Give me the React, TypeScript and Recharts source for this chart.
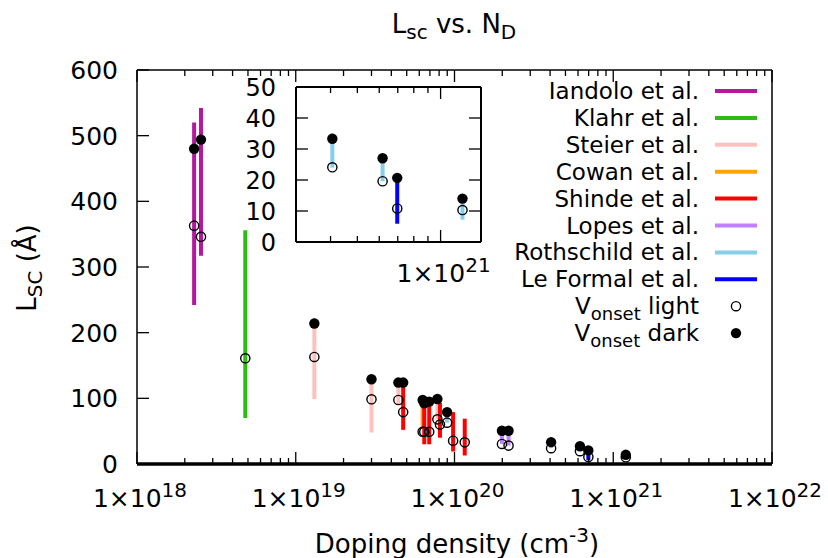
import React from 'react';
import { ScatterChart, Scatter, XAxis, YAxis, ErrorBar, Legend } from 'recharts';

const FONT = '"DejaVu Sans", sans-serif';

// ---- data (doping density in cm^-3, Lsc in Å) ----
const iandolo = [
  { x: 2.29e18, lo: 242, hi: 520, light: 363, dark: 480 },
  { x: 2.53e18, lo: 317, hi: 542, light: 346, dark: 494 },
];
const klahr = [{ x: 4.81e18, lo: 70, hi: 356, light: 161, dark: null }];
const steier = [
  { x: 1.31e19, lo: 99, hi: 222, light: 163, dark: 214 },
  { x: 3.0e19, lo: 48, hi: 135, light: 98.5, dark: 129 },
  { x: 4.43e19, lo: 90, hi: 124, light: 97.5, dark: 124 },
  { x: 7.8e19, lo: 68, hi: 99, light: 68, dark: 99 },
];
const cowan = [{ x: 6.3e19, lo: 55, hi: 90, light: 49, dark: 97.5 }];
const shinde = [
  { x: 4.75e19, lo: 52, hi: 123, light: 79, dark: 124 },
  { x: 6.45e19, lo: 30, hi: 93, light: 49, dark: 92.5 },
  { x: 6.93e19, lo: 30, hi: 93, light: 49, dark: 95 },
  { x: 8.1e19, lo: 40, hi: 93, light: 60, dark: null },
  { x: 9.8e19, lo: 19, hi: 79, light: 35.5, dark: null },
  { x: 1.16e20, lo: 13, hi: 69, light: 33, dark: null },
];
const lopes = [
  { x: 1.99e20, lo: 30.5, hi: 50.7, light: 30.5, dark: 50.7 },
  { x: 2.19e20, lo: 28, hi: 50.7, light: 28, dark: 50.7 },
];
const rothschild = [
  { x: 8.98e19, lo: 63, hi: 79, light: 63, dark: 79 },
  { x: 4.06e20, lo: 24, hi: 35, light: 24.1, dark: 33.3 },
  { x: 6.17e20, lo: 19.6, hi: 28, light: 19.6, dark: 27 },
  { x: 1.2e21, lo: 7.2, hi: 14, light: 10.3, dark: 14 },
];
const leFormal = [{ x: 6.97e20, lo: 5.9, hi: 20.7, light: 10.8, dark: 20.7 }];

const groupNames = ['Iandolo et al.', 'Klahr et al.', 'Steier et al.', 'Cowan et al.', 'Shinde et al.', 'Lopes et al.', 'Rothschild et al.', 'Le Formal et al.'];
const groupColors = ['#b5179e', '#2dbd12', '#ffc0c0', '#ffa500', '#ff0000', '#c080ff', '#87ceeb', '#0000ff'];
const groupData = [iandolo, klahr, steier, cowan, shinde, lopes, rothschild, leFormal];

const xMajorTicks = [1e18, 1e19, 1e20, 1e21, 1e22];
const minorMultipliers = [2, 3, 4, 5, 6, 7, 8, 9];
const yTicksMain = [0, 100, 200, 300, 400, 500, 600];
const yTicksInset = [0, 10, 20, 30, 40, 50];
const insetDomain = [3e20, 1.4e21];

const xTicksAll = xMajorTicks.flatMap((m, i) =>
  i < xMajorTicks.length - 1 ? [m, ...minorMultipliers.map((k) => k * m)] : [m]
);

const isMajor = (v: number) => Math.abs(Math.log10(v) - Math.round(Math.log10(v))) < 1e-6;

const makeXTick = (side: 'bottom' | 'top', labels: boolean, fontSize: number, labelDy: number, majorLen: number, minorLen: number, lo?: number, hi?: number) => (props: any) => {
  const { x, y, payload } = props;
  const v = payload.value;
  const major = isMajor(v);
  if (lo !== undefined && (v < lo * 0.999 || v > (hi as number) * 1.001)) return <g />;
  const len = major ? majorLen : minorLen;
  const exp = Math.round(Math.log10(v));
  return (
    <g>
      <line x1={x} x2={x} y1={y} y2={side === 'bottom' ? y - len : y + len} stroke="#000" strokeWidth={1.3} />
      {labels && major && side === 'bottom' ? (
        <text x={x + 3} y={y + labelDy} textAnchor="middle" fontFamily={FONT} fontSize={fontSize} fill="#000">
          1×10<tspan fontSize={fontSize * 0.8} dy={-10}>{exp}</tspan>
        </text>
      ) : null}
    </g>
  );
};

const makeYTick = (side: 'left' | 'right', fontSize: number, labelGap: number, len: number) => (props: any) => {
  const { x, y, payload } = props;
  return (
    <g>
      <line x1={x} x2={side === 'left' ? x + len : x - len} y1={y} y2={y} stroke="#000" strokeWidth={1.3} />
      {side === 'left' ? (
        <text x={x - labelGap} y={y + fontSize * 0.36} textAnchor="end" fontFamily={FONT} fontSize={fontSize} fill="#000">
          {payload.value}
        </text>
      ) : null}
    </g>
  );
};

const Empty = () => <g />;
const OpenCircle = (p: any) => <circle cx={p.cx} cy={p.cy} r={4.6} fill="none" stroke="#000" strokeWidth={1.4} />;
const FilledCircle = (p: any) => <circle cx={p.cx} cy={p.cy} r={5.2} fill="#000" />;

type Pt = { x: number; lo: number; hi: number; light: number | null; dark: number | null };

const renderSeries = (filter: (d: Pt) => boolean) => {
  const bars = groupData.map((arr, gi) => {
    const data = (arr as Pt[]).filter(filter).map((d) => ({ x: d.x, y: d.hi, err: [d.hi - d.lo, 0] }));
    return (
      <Scatter key={'bar' + gi} name={groupNames[gi]} data={data} xAxisId="b" yAxisId="l" shape={Empty} isAnimationActive={false} legendType="none">
        <ErrorBar dataKey="err" direction="y" width={0} stroke={groupColors[gi]} strokeWidth={4} isAnimationActive={false} />
      </Scatter>
    );
  });
  const all = (groupData as Pt[][]).flat().filter(filter);
  const lightPts = all.filter((d) => d.light !== null).map((d) => ({ x: d.x, y: d.light }));
  const darkPts = all.filter((d) => d.dark !== null).map((d) => ({ x: d.x, y: d.dark }));
  return [
    ...bars,
    <Scatter key="light" name="Vonset light" data={lightPts} xAxisId="b" yAxisId="l" shape={OpenCircle} isAnimationActive={false} legendType="none" />,
    <Scatter key="dark" name="Vonset dark" data={darkPts} xAxisId="b" yAxisId="l" shape={FilledCircle} isAnimationActive={false} legendType="none" />,
  ];
};

const Overlay = () => {
  const rowY = (i: number) => 91 + i * 26.9;
  return (
    <svg width={828} height={558} style={{ position: 'absolute', left: 0, top: 0, pointerEvents: 'none' }} fontFamily={FONT}>
      <text x={454} y={33} textAnchor="middle" fontSize={26} fill="#000">
        L<tspan fontSize={20} dy={6}>sc</tspan>
        <tspan dy={-6}> vs. N</tspan>
        <tspan fontSize={20} dy={6}>D</tspan>
      </text>
      <text x={457} y={553} textAnchor="middle" fontSize={26} fill="#000">
        Doping density (cm<tspan fontSize={20} dy={-11}>-3</tspan>
        <tspan dy={11}>)</tspan>
      </text>
      <text transform="rotate(-90)" x={-268} y={36} textAnchor="middle" fontSize={26} fill="#000">
        L<tspan fontSize={20} dy={6}>SC</tspan>
        <tspan dy={-6}> (Å)</tspan>
      </text>
      {groupNames.map((n, i) => (
        <g key={n}>
          <text x={699} y={rowY(i) + 8} textAnchor="end" fontSize={23} fill="#000">{n}</text>
          <line x1={715} x2={757} y1={rowY(i)} y2={rowY(i)} stroke={groupColors[i]} strokeWidth={4} />
        </g>
      ))}
      <text x={699} y={rowY(8) + 8} textAnchor="end" fontSize={23} fill="#000">
        V<tspan fontSize={18} dy={6}>onset</tspan>
        <tspan dy={-6}> light</tspan>
      </text>
      <circle cx={736} cy={rowY(8)} r={4.6} fill="none" stroke="#000" strokeWidth={1.4} />
      <text x={699} y={rowY(9) + 8} textAnchor="end" fontSize={23} fill="#000">
        V<tspan fontSize={18} dy={6}>onset</tspan>
        <tspan dy={-6}> dark</tspan>
      </text>
      <circle cx={736} cy={rowY(9)} r={5.2} fill="#000" />
    </svg>
  );
};

export default function App() {
  return (
    <div style={{ position: 'absolute', left: 0, top: 0, width: 828, height: 558, background: '#fff' }}>
      <ScatterChart width={828} height={558} margin={{ top: 40, right: 26, bottom: 34, left: 77 }}>
        <XAxis xAxisId="b" type="number" dataKey="x" scale="log" domain={[1e18, 1e22]} allowDataOverflow ticks={xTicksAll} interval={0}
          tick={makeXTick('bottom', true, 25, 43, 12, 6)} tickSize={0} tickMargin={0} tickLine={false}
          axisLine={{ stroke: '#000', strokeWidth: 3.5 }} height={60} />
        <XAxis xAxisId="t" orientation="top" type="number" dataKey="x" scale="log" domain={[1e18, 1e22]} allowDataOverflow ticks={xTicksAll} interval={0}
          tick={makeXTick('top', false, 25, 0, 12, 6)} tickSize={0} tickMargin={0} tickLine={false}
          axisLine={{ stroke: '#000', strokeWidth: 1.5 }} height={30} />
        <YAxis yAxisId="l" type="number" dataKey="y" domain={[0, 600]} ticks={yTicksMain} interval={0}
          tick={makeYTick('left', 25, 19, 12)} tickSize={0} tickMargin={0} tickLine={false}
          axisLine={{ stroke: '#000', strokeWidth: 1.5 }} width={60} />
        <YAxis yAxisId="r" orientation="right" type="number" dataKey="y" domain={[0, 600]} ticks={yTicksMain} interval={0}
          tick={makeYTick('right', 25, 0, 11)} tickSize={0} tickMargin={0} tickLine={false}
          axisLine={{ stroke: '#000', strokeWidth: 1.5 }} width={30} />
        {renderSeries(() => true)}
        <Legend layout="vertical" align="center" verticalAlign="middle" content={() => <Overlay />}
          wrapperStyle={{ position: 'absolute', left: 0, top: 0, width: 828, height: 558, pointerEvents: 'none' }} />
      </ScatterChart>
      <div style={{ position: 'absolute', left: 230, top: 60 }}>
        <ScatterChart width={300} height={230} margin={{ top: 7, right: 29, bottom: 18, left: 26 }}>
          <XAxis xAxisId="b" type="number" dataKey="x" scale="log" domain={insetDomain} allowDataOverflow ticks={xTicksAll.filter((t) => t >= 3e20 && t <= 1.4e21)} interval={0}
            tick={makeXTick('bottom', true, 25, 39.5, 12, 6, 3.01e20, 1.39e21)} tickSize={0} tickMargin={0} tickLine={false}
            axisLine={{ stroke: '#000', strokeWidth: 2 }} height={30} />
          <XAxis xAxisId="t" orientation="top" type="number" dataKey="x" scale="log" domain={insetDomain} allowDataOverflow ticks={xTicksAll.filter((t) => t >= 3e20 && t <= 1.4e21)} interval={0}
            tick={makeXTick('top', false, 25, 0, 12, 6, 3.01e20, 1.39e21)} tickSize={0} tickMargin={0} tickLine={false}
            axisLine={{ stroke: '#000', strokeWidth: 2 }} height={20} />
          <YAxis yAxisId="l" type="number" dataKey="y" domain={[0, 50]} allowDataOverflow ticks={yTicksInset} interval={0}
            tick={makeYTick('left', 24, 20, 12)} tickSize={0} tickMargin={0} tickLine={false}
            axisLine={{ stroke: '#000', strokeWidth: 2 }} width={40} />
          <YAxis yAxisId="r" orientation="right" type="number" dataKey="y" domain={[0, 50]} allowDataOverflow ticks={yTicksInset} interval={0}
            tick={makeYTick('right', 24, 0, 12)} tickSize={0} tickMargin={0} tickLine={false}
            axisLine={{ stroke: '#000', strokeWidth: 2 }} width={20} />
          {renderSeries((d) => d.x >= insetDomain[0] && d.x <= insetDomain[1])}
        </ScatterChart>
      </div>
    </div>
  );
}
